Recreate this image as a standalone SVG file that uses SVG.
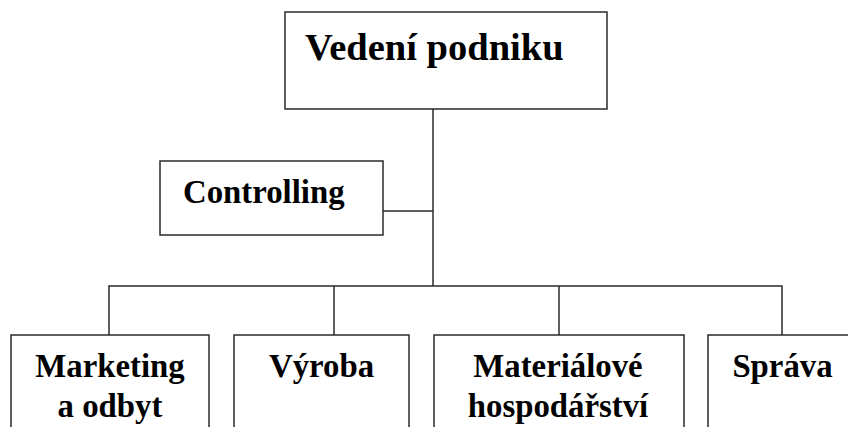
<svg xmlns="http://www.w3.org/2000/svg" width="848" height="427" viewBox="0 0 848 427">
  <style>
    .box { fill: #ffffff; stroke: #2a2a2a; stroke-width: 1.5; }
    .link { fill: none; stroke: #2a2a2a; stroke-width: 1.5; }
    .lbl { font-family: "Liberation Serif", "Times New Roman", serif; font-weight: bold; fill: #000; }
    .big { font-size: 38.5px; }
    .mid { font-size: 32.8px; }
  </style>
  <rect width="848" height="427" fill="#ffffff"/>

  <!-- connectors -->
  <g id="connectors">
    <path class="link" d="M433 109 V286"/>
    <path class="link" d="M383 211 H433"/>
    <path class="link" d="M109 335 V286 H782 V335"/>
    <path class="link" d="M334 286 V335"/>
    <path class="link" d="M559 286 V335"/>
  </g>

  <g id="vedeni">
    <rect class="box" x="285" y="12" width="322" height="97"/>
    <text class="lbl big" x="305" y="60">Vedení podniku</text>
  </g>

  <g id="controlling">
    <rect class="box" x="160" y="161" width="223" height="74"/>
    <text class="lbl mid" x="183" y="203">Controlling</text>
  </g>

  <g id="marketing">
    <rect class="box" x="11" y="335" width="198" height="110"/>
    <text class="lbl mid" x="110" y="377" text-anchor="middle">Marketing</text>
    <text class="lbl mid" x="110" y="417" text-anchor="middle">a odbyt</text>
  </g>

  <g id="vyroba">
    <rect class="box" x="234" y="335" width="175" height="110"/>
    <text class="lbl mid" x="321.5" y="377" text-anchor="middle">Výroba</text>
  </g>

  <g id="material">
    <rect class="box" x="434" y="335" width="250" height="110"/>
    <text class="lbl mid" x="558" y="377" text-anchor="middle">Materiálové</text>
    <text class="lbl mid" x="558" y="417" text-anchor="middle">hospodářství</text>
  </g>

  <g id="sprava">
    <rect class="box" x="708" y="335" width="150" height="110"/>
    <text class="lbl mid" x="782.5" y="377" text-anchor="middle">Správa</text>
  </g>
</svg>
